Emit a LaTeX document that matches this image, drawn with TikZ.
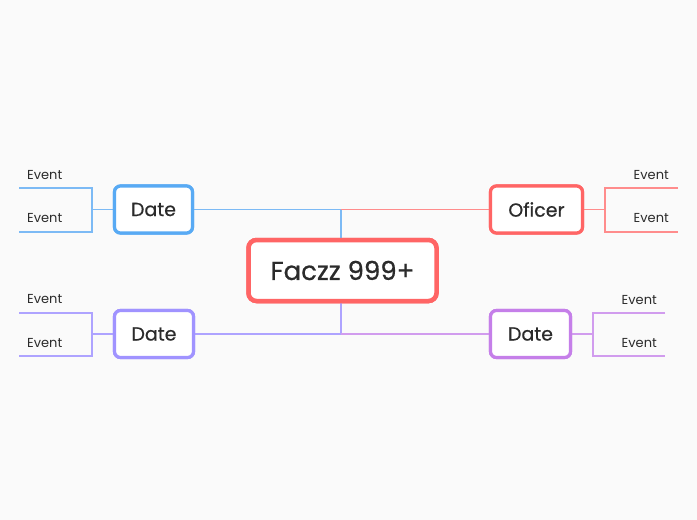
\documentclass[tikz,border=0pt]{standalone}
\usepackage{fontspec}
\setmainfont{Poppins}
\newfontfamily\medfont[FakeBold=0.6]{Poppins}
\definecolor{bg}{HTML}{FAFAFA}
\definecolor{cblue}{HTML}{58AAF4}
\definecolor{lblue}{HTML}{7CBAF5}
\definecolor{cred}{HTML}{FF6565}
\definecolor{lred}{HTML}{FF8C8C}
\definecolor{cviol}{HTML}{A093FF}
\definecolor{lviol}{HTML}{AEA3FF}
\definecolor{cpurp}{HTML}{C57FE9}
\definecolor{lpurp}{HTML}{D19CEE}
\definecolor{ink}{HTML}{2B2B2B}
\begin{document}
\begin{tikzpicture}[x=1pt,y=-1pt,
  topic/.style={draw, rounded corners=6pt, line width=3.2pt, fill=white, inner sep=0pt, text=ink, font=\medfont\fontsize{19}{22}\selectfont, minimum height=47pt},
  central/.style={draw=cred, rounded corners=8pt, line width=4.5pt, fill=white, inner sep=0pt, text=ink, font=\medfont\fontsize{26}{30}\selectfont, minimum width=188pt, minimum height=61pt},
  evl/.style={inner sep=0pt, anchor=base west, text=ink, font=\fontsize{13}{15}\selectfont},
  evr/.style={inner sep=0pt, anchor=base east, text=ink, font=\fontsize{13}{15}\selectfont},
  br/.style={line width=1.2pt}
]
\useasboundingbox (0,0) rectangle (697,520);
\fill[bg] (0,0) rectangle (697,520);

\coordinate (jt) at (341,209.5);
\coordinate (jb) at (341,334);
\coordinate (ltj) at (92,209.5);
\coordinate (lbj) at (92,334);
\coordinate (rtj) at (605,209.5);
\coordinate (rbj) at (593,334);
\coordinate (lt1) at (19,188);
\coordinate (lt2) at (19,232);
\coordinate (lb1) at (19,313);
\coordinate (lb2) at (19,356);
\coordinate (rt1) at (678,188);
\coordinate (rt2) at (678,232);
\coordinate (rb1) at (665,313);
\coordinate (rb2) at (665,356);

\node[central] (c) at (342.5,270.5) {Faczz 999+};
\node[topic, draw=cblue, minimum width=78pt] (d1) at (153.5,209.5) {Date};
\node[topic, draw=cred, minimum width=92pt] (o) at (536.5,209.5) {Oficer};
\node[topic, draw=cviol, minimum width=79pt] (d2) at (154,334) {Date};
\node[topic, draw=cpurp, minimum width=80pt] (d3) at (530.5,334) {Date};

\draw[br, lblue] (d1.east) -- (jt) -- (c.north -| jt);
\draw[br, lred] (jt) -- (o.west);
\draw[br, lviol] (d2.east) -- (jb) -- (c.south -| jb);
\draw[br, lpurp] (jb) -- (d3.west);

\draw[br, lblue] (d1.west) -- (ltj);
\draw[br, lblue] (lt1) -- (lt1 -| ltj) -- (lt2 -| ltj) -- (lt2);
\draw[br, lred] (o.east) -- (rtj);
\draw[br, lred] (rt1) -- (rt1 -| rtj) -- (rt2 -| rtj) -- (rt2);
\draw[br, lviol] (d2.west) -- (lbj);
\draw[br, lviol] (lb1) -- (lb1 -| lbj) -- (lb2 -| lbj) -- (lb2);
\draw[br, lpurp] (d3.east) -- (rbj);
\draw[br, lpurp] (rb1) -- (rb1 -| rbj) -- (rb2 -| rbj) -- (rb2);

\node[evl] (e1) at (27,179) {Event};
\node[evl] (e2) at (27,222) {Event};
\node[evl] (e3) at (27,303) {Event};
\node[evl] (e4) at (27,347) {Event};
\node[evr] (e5) at (669,179) {Event};
\node[evr] (e6) at (669,222) {Event};
\node[evr] (e7) at (657,304) {Event};
\node[evr] (e8) at (657,347) {Event};

% boxes on top of the lines
\node[central] at (c) {Faczz 999+};
\node[topic, draw=cblue, minimum width=78pt] at (d1) {Date};
\node[topic, draw=cred, minimum width=92pt] at (o) {Oficer};
\node[topic, draw=cviol, minimum width=79pt] at (d2) {Date};
\node[topic, draw=cpurp, minimum width=80pt] at (d3) {Date};
\end{tikzpicture}
\end{document}
